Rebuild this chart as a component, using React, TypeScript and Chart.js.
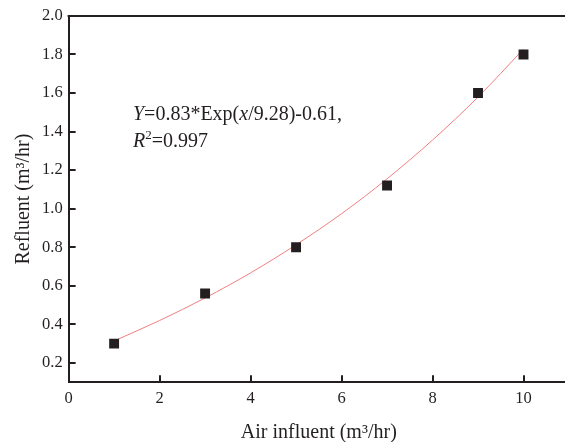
import React, { useEffect, useRef } from "react";
import { Chart, registerables } from "chart.js";
Chart.register(...registerables);

const airInfluent = [1, 3, 5, 7, 9, 10];
const refluent = [0.3, 0.56, 0.8, 1.12, 1.6, 1.8];
const fitX = [1, 2, 3, 4, 5, 6, 7, 8, 9, 10];
const fitY = [0.314, 0.42, 0.537, 0.667, 0.813, 0.974, 1.155, 1.356, 1.579, 1.828];
const xTicks = [0, 2, 4, 6, 8, 10];
const yTicks = [0.2, 0.4, 0.6, 0.8, 1.0, 1.2, 1.4, 1.6, 1.8, 2.0];

const INK = "#231f20";
const FONT = "'Liberation Serif', 'DejaVu Serif', serif";

const framePlugin = {
  id: "frame",
  afterDraw(chart: any) {
    const { ctx, chartArea } = chart;
    const xs = chart.scales.x;
    const ys = chart.scales.y;
    ctx.save();
    ctx.strokeStyle = INK;
    ctx.lineWidth = 2;
    ctx.beginPath();
    ctx.moveTo(chartArea.left - 1, chartArea.top);
    ctx.lineTo(chartArea.right + 1, chartArea.top);
    ctx.moveTo(chartArea.right, chartArea.top);
    ctx.lineTo(chartArea.right, chartArea.bottom);
    ctx.stroke();
    ctx.lineWidth = 2;
    ctx.beginPath();
    xs.ticks.forEach((t: any) => {
      const px = Math.round(xs.getPixelForValue(t.value));
      ctx.moveTo(px, chartArea.bottom);
      ctx.lineTo(px, chartArea.bottom - 7);
    });
    ys.ticks.forEach((t: any) => {
      const py = Math.round(ys.getPixelForValue(t.value));
      ctx.moveTo(chartArea.left, py);
      ctx.lineTo(chartArea.left + 7, py);
    });
    ctx.stroke();

    // equation annotation
    const size = 20;
    const drawSegs = (segs: [string, string, number?][], x: number, y: number) => {
      let cx = x;
      segs.forEach(([txt, style, dy]) => {
        if (style === "sup") {
          ctx.font = `${Math.round(size * 0.65)}px ${FONT}`;
        } else {
          ctx.font = `${style === "i" ? "italic " : ""}${size}px ${FONT}`;
        }
        ctx.fillText(txt, cx, y + (dy || 0));
        cx += ctx.measureText(txt).width;
      });
    };
    ctx.fillStyle = INK;
    ctx.textBaseline = "alphabetic";
    ctx.textAlign = "left";
    drawSegs(
      [
        ["Y", "i"],
        ["=0.83*Exp(", "n"],
        ["x", "i"],
        ["/9.28)-0.61,", "n"],
      ],
      133,
      120
    );
    drawSegs(
      [
        ["R", "i"],
        ["2", "sup", -8],
        ["=0.997", "n"],
      ],
      133,
      147
    );
    ctx.restore();
  },
};

export default function App() {
  const ref = useRef<HTMLCanvasElement>(null);
  useEffect(() => {
    const chart = new Chart(ref.current!, {
      type: "scatter",
      data: {
        datasets: [
          {
            label: "points",
            data: airInfluent.map((x, i) => ({ x, y: refluent[i] })),
            pointStyle: "rect",
            pointRadius: 7,
            pointBackgroundColor: INK,
            pointBorderColor: INK,
            pointBorderWidth: 0,
            showLine: false,
            order: 0,
          },
          {
            label: "fit",
            data: fitX.map((x, i) => ({ x, y: fitY[i] })),
            showLine: true,
            pointRadius: 0,
            borderColor: "#f07f7f",
            borderWidth: 1,
            cubicInterpolationMode: "monotone",
            order: 1,
          } as any,
        ],
      },
      options: {
        responsive: false,
        animation: false,
        layout: { padding: { top: 11, right: 0, left: 12, bottom: 0 } },
        plugins: { legend: { display: false }, tooltip: { enabled: false } },
        scales: {
          x: {
            type: "linear",
            min: 0,
            max: 11,
            afterBuildTicks: (s: any) => {
              s.ticks = xTicks.map((v) => ({ value: v }));
            },
            grid: { display: false, drawTicks: false },
            border: { display: true, color: INK, width: 2 },
            ticks: {
              color: INK,
              font: { family: FONT, size: 16.5 },
              padding: 7,
              callback: (v: any) => String(v),
            },
            title: {
              display: true,
              text: "Air influent (m³/hr)",
              color: INK,
              font: { family: FONT, size: 20 },
              padding: { top: 5, bottom: 0 },
            },
          },
          y: {
            type: "linear",
            min: 0.1,
            max: 2.0,
            afterBuildTicks: (s: any) => {
              s.ticks = yTicks.map((v) => ({ value: v }));
            },
            grid: { display: false, drawTicks: false },
            border: { display: true, color: INK, width: 2 },
            ticks: {
              color: INK,
              font: { family: FONT, size: 16.5 },
              padding: 6,
              callback: (v: any) => Number(v).toFixed(1),
            },
            title: {
              display: true,
              text: "Refluent (m³/hr)",
              color: INK,
              font: { family: FONT, size: 20 },
              padding: { top: 0, bottom: 0 },
            },
          },
        },
      },
      plugins: [framePlugin],
    });
    return () => chart.destroy();
  }, []);
  return (
    <div
      style={{
        position: "absolute",
        left: 0,
        top: 0,
        width: 565,
        height: 442,
        overflow: "hidden",
        background: "#fff",
      }}
    >
      <canvas ref={ref} width={576} height={445} style={{ display: "block" }} />
    </div>
  );
}
